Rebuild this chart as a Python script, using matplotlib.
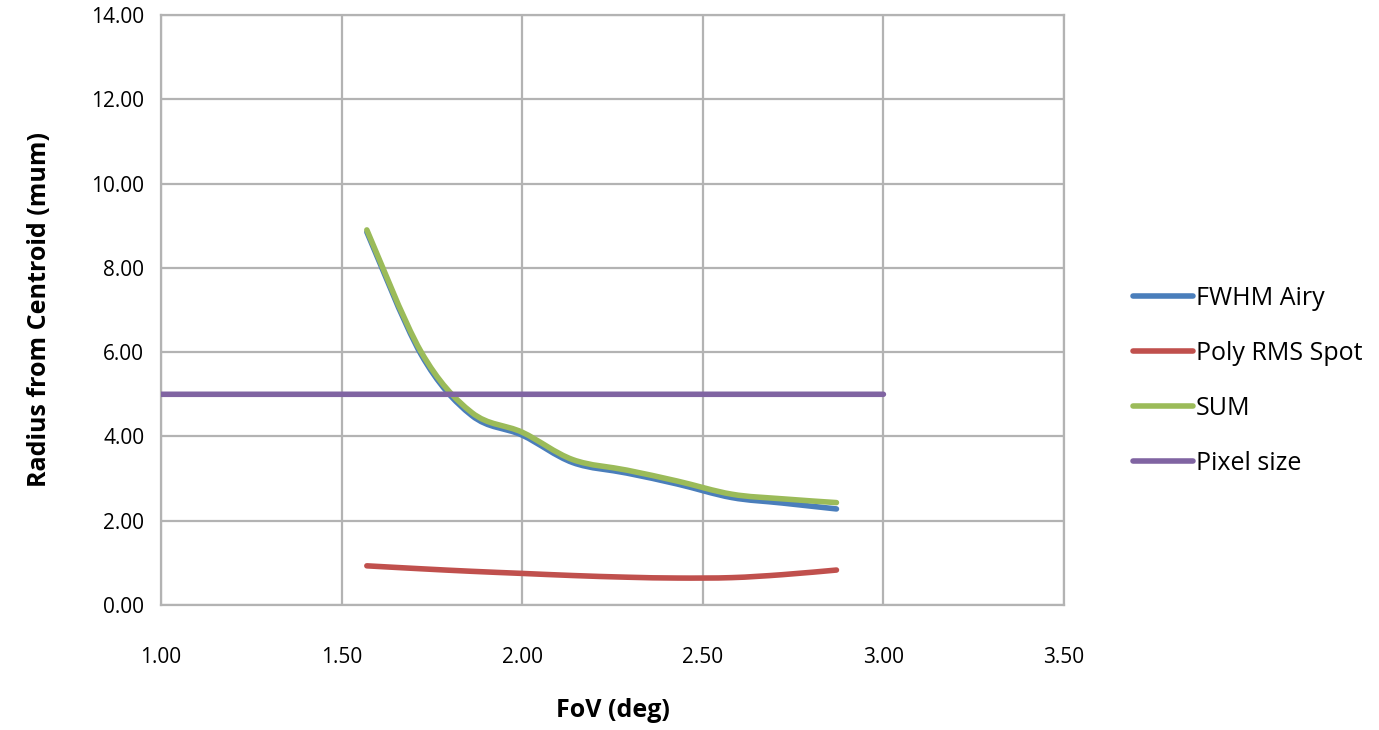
import matplotlib
matplotlib.use('Agg')
import matplotlib.pyplot as plt
from matplotlib.path import Path
from matplotlib.patches import PathPatch
from matplotlib.lines import Line2D
import numpy as np

# data
fov = [1.57, 1.72, 1.86, 2.00, 2.14, 2.29, 2.43, 2.58, 2.72, 2.87]
fwhm_airy = [8.85, 5.95, 4.50, 4.03, 3.38, 3.13, 2.87, 2.55, 2.42, 2.28]
poly_rms = [0.93, 0.86, 0.80, 0.75, 0.70, 0.66, 0.64, 0.65, 0.72, 0.83]
sum_total = [8.90, 6.01, 4.57, 4.10, 3.45, 3.20, 2.94, 2.63, 2.52, 2.43]
pixel_fov = [1.00, 3.00]
pixel_size = [5.00, 5.00]

labels = ['FWHM Airy', 'Poly RMS Spot', 'SUM', 'Pixel size']
colors = ['#4A7EBB', '#C0504D', '#9BBB59', '#8064A2']
font = 'Open Sans'


def smooth_path(x, y):
    # Excel-style smoothed line: cubic bezier through the points
    pts = np.column_stack([x, y]).astype(float)
    n = len(pts)
    verts = [pts[0]]
    codes = [Path.MOVETO]
    for i in range(n - 1):
        p0 = pts[i - 1] if i > 0 else pts[i]
        p1 = pts[i]
        p2 = pts[i + 1]
        p3 = pts[i + 2] if i + 2 < n else pts[i + 1]
        c1 = p1 + (p2 - p0) / 6.0
        c2 = p2 - (p3 - p1) / 6.0
        verts += [c1, c2, p2]
        codes += [Path.CURVE4] * 3
    return Path(verts, codes)


fig = plt.figure(figsize=(13.79, 7.30), dpi=100)
ax = fig.add_axes([0.1167, 0.1712, 0.6549, 0.8083])

series = [(fov, fwhm_airy), (fov, poly_rms), (fov, sum_total), (pixel_fov, pixel_size)]
for (xs, ys), c in zip(series, colors):
    p = PathPatch(smooth_path(xs, ys), facecolor='none', edgecolor=c,
                  lw=4.0, capstyle='round', joinstyle='round', zorder=3)
    ax.add_patch(p)

ax.set_xlim(1.0, 3.5)
ax.set_ylim(0, 14)
ax.set_xticks(np.arange(1.0, 3.51, 0.5))
ax.set_yticks(np.arange(0, 14.1, 2))
ax.xaxis.set_major_formatter(matplotlib.ticker.FormatStrFormatter('%.2f'))
ax.yaxis.set_major_formatter(matplotlib.ticker.FormatStrFormatter('%.2f'))
ax.grid(True, color='#B3B3B3', lw=1.6)
ax.set_axisbelow(True)
for s in ax.spines.values():
    s.set_color('#B3B3B3')
    s.set_linewidth(1.6)
ax.tick_params(length=0, labelsize=15)
ax.tick_params(axis='x', pad=30)
ax.tick_params(axis='y', pad=12)
for t in ax.get_xticklabels() + ax.get_yticklabels():
    t.set_fontfamily(font)

ax.set_xlabel('FoV (deg)', fontsize=18, fontweight='bold', family=font, labelpad=22)
ax.set_ylabel('Radius from Centroid (mum)', fontsize=18, fontweight='bold', family=font, labelpad=28)

handles = [Line2D([], [], color=c, lw=4.0, solid_capstyle='round') for c in colors]
leg = ax.legend(handles, labels, loc='center left', bbox_to_anchor=(1.065, 0.38),
                frameon=False, handlelength=2.4, handletextpad=0.12, labelspacing=1.2,
                prop={'family': font, 'size': 18}, borderaxespad=0)

fig.savefig('out.png', dpi=100)
